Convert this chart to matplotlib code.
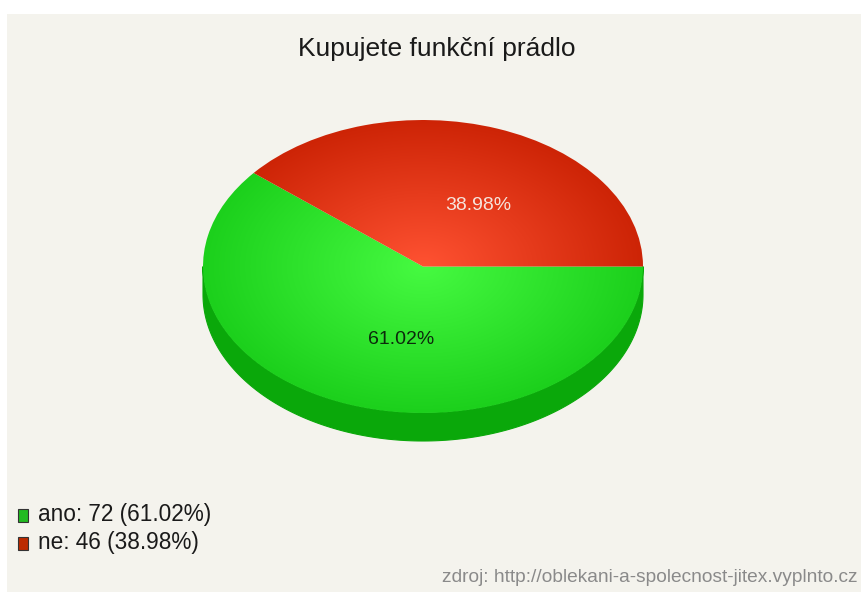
import numpy as np
import matplotlib
matplotlib.use("Agg")
import matplotlib.pyplot as plt
from matplotlib.patches import Wedge, Polygon, Rectangle
from matplotlib.transforms import Affine2D

# survey answers
labels = ["ano", "ne"]
counts = [72, 46]
top_colors = [((70, 250, 65), (28, 208, 28)), ((255, 82, 50), (205, 36, 6))]
side_colors = ["#0aa80a", "#a01e00"]
legend_colors = ["#22bb22", "#bb2a00"]
label_colors = ["#0c2a0c", "#f6e4dc"]

title = "Kupujete funkční prádlo"
source = "zdroj: http://oblekani-a-spolecnost-jitex.vyplnto.cz"

W, H = 861, 592
cx, cy = 423, 266.5
rx, ry = 220, 146.5
depth = 28

plt.rcParams["font.family"] = ["Liberation Sans", "DejaVu Sans"]

fig = plt.figure(figsize=(W / 100, H / 100), dpi=100)
fig.patch.set_facecolor("white")
ax = fig.add_axes([0, 0, 1, 1])
ax.set_xlim(0, W)
ax.set_ylim(H, 0)
ax.axis("off")

ax.add_patch(Rectangle((7, 14), W - 7, H - 14, facecolor="#f4f3ed", edgecolor="none", zorder=0))

total = sum(counts)
pcts = [100.0 * c / total for c in counts]

# slices go clockwise from 3 o'clock, stored as ccw angle ranges
spans = []
end = 360.0
for c in counts:
    start = end - 360.0 * c / total
    spans.append((start, end))
    end = start

unit = Affine2D().scale(rx, -ry).translate(cx, cy) + ax.transData

# side walls (front half only)
for (t1, t2), col in zip(spans, side_colors):
    lo, hi = max(t1, 180), min(t2, 360)
    if lo >= hi:
        continue
    a = np.radians(np.linspace(lo, hi, 200))
    xs = cx + rx * np.cos(a)
    ys = cy - ry * np.sin(a)
    pts = np.vstack([np.column_stack([xs, ys]),
                     np.column_stack([xs[::-1], ys[::-1] + depth])])
    ax.add_patch(Polygon(pts, closed=True, facecolor=col, edgecolor=col, lw=0.8, zorder=1))

# top face with radial shading
gx = np.linspace(-1, 1, 500)
gy = np.linspace(-1, 1, 400)
GX, GY = np.meshgrid(gx, gy)
R = np.clip(np.sqrt(GX ** 2 + GY ** 2), 0, 1)
for (t1, t2), (c0, c1) in zip(spans, top_colors):
    c0 = np.array(c0) / 255.0
    c1 = np.array(c1) / 255.0
    img = c0[None, None, :] * (1 - R[..., None]) + c1[None, None, :] * R[..., None]
    im = ax.imshow(img, extent=(cx - rx, cx + rx, cy + ry, cy - ry),
                   origin="upper", interpolation="bilinear", zorder=2, aspect="auto")
    w = Wedge((0, 0), 1, t1, t2, transform=unit, facecolor="none", edgecolor="none")
    ax.add_patch(w)
    im.set_clip_path(w)

ax.set_xlim(0, W)
ax.set_ylim(H, 0)

# percentage labels
label_pos = [(401, 340), (478, 205)]
for (x, y), p, col in zip(label_pos, pcts, label_colors):
    ax.text(x, y, "%.2f%%" % p, ha="center", va="center", fontsize=14, color=col, zorder=3)

ax.text(437, 49, title, ha="center", va="center", fontsize=19, color="#1a1a1a")

# legend
for i, (lab, c, p, col) in enumerate(zip(labels, counts, pcts, legend_colors)):
    y = 515 + 28 * i
    ax.add_patch(Rectangle((18, y - 6.5), 10, 13, facecolor=col, edgecolor="#333333", lw=0.8, zorder=3))
    ax.text(38, y, "%s: %d (%.2f%%)" % (lab, c, p), ha="left", va="center", fontsize=16.3, color="#1a1a1a")

ax.text(858, 577, source, ha="right", va="center", fontsize=13.8, color="#8a8a8a")

fig.savefig("out.png", dpi=100, facecolor=fig.get_facecolor())
